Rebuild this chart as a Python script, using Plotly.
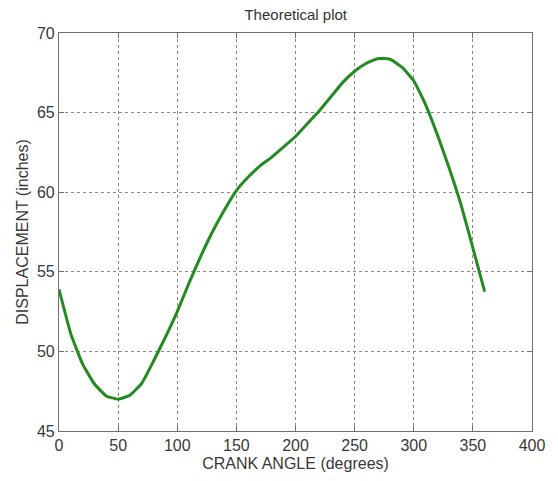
import plotly.graph_objects as go

# Crank angle (degrees) and theoretical displacement (inches)
crank_angle = [0, 10, 20, 30, 40, 50, 60, 70, 80, 90, 100, 110, 120, 130, 140,
               150, 160, 170, 180, 190, 200, 210, 220, 230, 240, 250, 260, 270,
               280, 290, 300, 310, 320, 330, 340, 350, 360]
displacement = [53.9, 51.1, 49.2, 47.95, 47.2, 47.0, 47.25, 48.0, 49.4, 50.9,
                52.5, 54.3, 56.0, 57.55, 58.9, 60.1, 60.95, 61.65, 62.2, 62.85,
                63.5, 64.3, 65.1, 66.0, 66.9, 67.6, 68.1, 68.4, 68.35, 67.85,
                67.0, 65.5, 63.6, 61.5, 59.2, 56.5, 53.75]

x_ticks = [0, 50, 100, 150, 200, 250, 300, 350, 400]
y_ticks = [45, 50, 55, 60, 65, 70]

font_family = "Liberation Sans, Arial, sans-serif"
text_color = "#383838"

fig = go.Figure()
fig.add_trace(go.Scatter(
    x=crank_angle,
    y=displacement,
    mode="lines",
    line=dict(color="#228b22", width=3, shape="spline", smoothing=0.4),
    showlegend=False,
))

axis_common = dict(
    showline=True,
    linecolor="#6e6e6e",
    linewidth=1.2,
    mirror="ticks",
    ticks="inside",
    ticklen=5,
    tickcolor="#6e6e6e",
    showgrid=True,
    gridcolor="#8a8a8a",
    gridwidth=1,
    griddash="dot",
    zeroline=False,
    tickfont=dict(family=font_family, size=16, color=text_color),
)

fig.update_xaxes(
    range=[0, 400],
    tickvals=x_ticks,
    ticktext=[str(v) for v in x_ticks],
    title=dict(text="CRANK ANGLE (degrees)", standoff=4,
               font=dict(family=font_family, size=16, color=text_color)),
    **axis_common,
)
fig.update_yaxes(
    range=[45, 70],
    tickvals=y_ticks,
    ticktext=[str(v) for v in y_ticks],
    title=dict(text="DISPLACEMENT (inches)", standoff=4,
               font=dict(family=font_family, size=16, color=text_color)),
    **axis_common,
)

fig.update_layout(
    width=558,
    height=481,
    margin=dict(l=59, r=26, t=33, b=44),
    paper_bgcolor="white",
    plot_bgcolor="white",
    title=dict(text="Theoretical plot", x=0.53, xanchor="center",
               y=0.97, yanchor="middle",
               font=dict(family=font_family, size=15, color="#333333")),
)

fig.write_html("out.html")
